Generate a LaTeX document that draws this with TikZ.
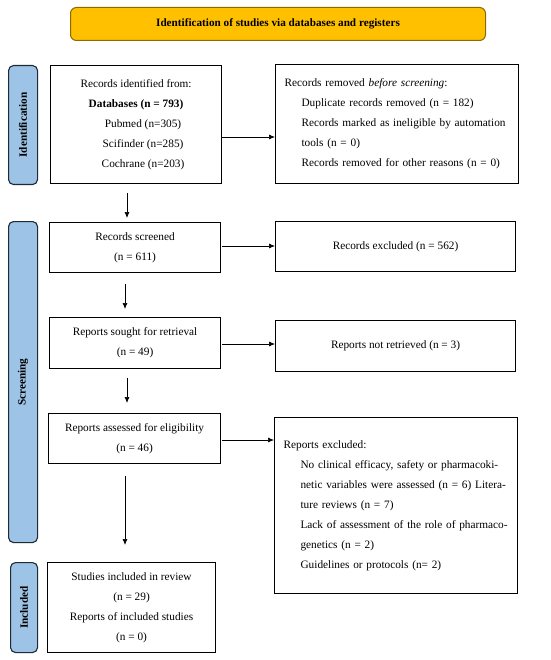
\documentclass[tikz,border=0pt]{standalone}
\usepackage{fontspec}
\setmainfont{Liberation Serif}
\usetikzlibrary{arrows.meta}
\definecolor{bannerfill}{HTML}{FFC000}
\definecolor{bannerdraw}{HTML}{8C6A00}
\definecolor{sidefill}{HTML}{9DC3E6}
\definecolor{sidedraw}{HTML}{1F2A36}
\tikzset{
  box/.style={draw=black, line width=1.1pt, anchor=north west, inner sep=0pt,
    font=\fontsize{11.3}{20}\selectfont},
  sidebox/.style={draw=sidedraw, fill=sidefill, line width=1.1pt, rounded corners=5pt,
    anchor=north west, minimum width=29pt, inner sep=0pt},
  sidetext/.style={rotate=90, font=\fontsize{11.2}{12}\selectfont\bfseries},
  arr/.style={-{Latex[length=6pt,width=5pt]}, line width=0.7pt},
}
\begin{document}
\begin{tikzpicture}[x=1pt,y=-1pt]
\useasboundingbox (0,0) rectangle (550,660);
% banner
\node[draw=bannerdraw, fill=bannerfill, line width=1pt, rounded corners=6pt,
  anchor=north west, minimum width=415pt, minimum height=33pt, inner sep=0pt,
  font=\fontsize{11.2}{12}\selectfont\bfseries] (banner) at (70,7)
  {Identification of studies via databases and registers};
% side boxes
\node[sidebox, minimum height=119pt] (sid) at (8,65) {};
\node[sidetext] (sidt) at (sid.center) {Identification};
\node[sidebox, minimum height=321pt] (ssc) at (8,221) {};
\node[sidetext] (ssct) at (ssc.center) {Screening};
\node[sidebox, minimum height=90pt, minimum width=27pt] (sin) at (10,562) {};
\node[sidetext] (sint) at (sin.center) {Included};
% boxes
\node[box, minimum width=171pt, minimum height=118pt, align=center] (b1) at (50,65)
  {Records identified from:\\ \textbf{Databases (n = 793)}\\
   \hspace*{14pt}Pubmed (n=305)\\ \hspace*{14pt}Scifinder (n=285)\\ \hspace*{14pt}Cochrane (n=203)};
\node[box, minimum width=243pt, minimum height=119pt, text width=225pt, align=left,
  inner xsep=9pt] (b2) at (275,64)
  {Records removed \textit{before screening}:\\
   \hspace*{17pt}Duplicate records removed (n = 182)\\
   \hspace*{17pt}Records marked as ineligible by automation\\
   \hspace*{17pt}tools (n = 0)\\
   \hspace*{17pt}Records removed for other reasons (n = 0)};
\node[box, minimum width=171pt, minimum height=50pt, align=center] (b3) at (49,222)
  {Records screened\\ (n = 611)};
\node[box, minimum width=240pt, minimum height=50pt, align=center] (b4) at (275,221)
  {Records excluded (n = 562)};
\node[box, minimum width=171pt, minimum height=51pt, align=center] (b5) at (49,317)
  {Reports sought for retrieval\\ (n = 49)};
\node[box, minimum width=240pt, minimum height=51pt, align=center] (b6) at (275,320)
  {Reports not retrieved (n = 3)};
\node[box, minimum width=172pt, minimum height=50pt, align=center] (b7) at (48,413)
  {Reports assessed for eligibility\\ (n = 46)};
\node[box, minimum width=243pt, minimum height=176pt, text width=225pt, align=left,
  inner xsep=9pt] (b8) at (274,417)
  {Reports excluded:\\
   \hspace*{17pt}\makebox[208pt][s]{No clinical efficacy, safety or pharmacoki-}\\
   \hspace*{17pt}\makebox[208pt][s]{netic variables were assessed (n = 6) Litera-}\\
   \hspace*{17pt}ture reviews (n = 7)\\
   \hspace*{17pt}\makebox[208pt][s]{Lack of assessment of the role of pharmaco-}\\
   \hspace*{17pt}genetics (n = 2)\\
   \hspace*{17pt}Guidelines or protocols (n= 2)};
\node[box, minimum width=168pt, minimum height=90pt, align=center] (b9) at (47,562)
  {Studies included in review\\ (n = 29)\\ Reports of included studies\\ (n = 0)};
% coordinates for arrows
\coordinate (c1) at (222,137);
\coordinate (c2) at (222,246);
\coordinate (c3) at (222,344);
\coordinate (c4) at (222,440);
\draw[arr] (c1) -- (c1 -| b2.west);
\draw[arr] (c2) -- (c2 -| b4.west);
\draw[arr] (c3) -- (c3 -| b6.west);
\draw[arr] (c4) -- (c4 -| b8.west);
% vertical arrows
\coordinate (v1) at (127,0);
\coordinate (v2) at (125,0);
\coordinate (v3) at (127,0);
\coordinate (v4) at (125,0);
\draw[arr, shorten <=9pt, shorten >=4pt] (v1 |- b1.south) -- (v1 |- b3.north);
\draw[arr, shorten <=11pt, shorten >=8pt] (v2 |- b3.south) -- (v2 |- b5.north);
\draw[arr, shorten <=9pt, shorten >=10pt] (v3 |- b5.south) -- (v3 |- b7.north);
\draw[arr, shorten <=12pt, shorten >=17pt] (v4 |- b7.south) -- (v4 |- b9.north);
\end{tikzpicture}
\end{document}
